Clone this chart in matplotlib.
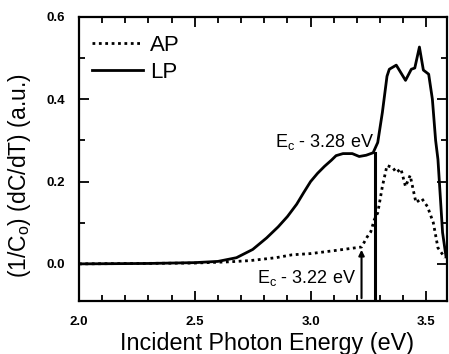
import matplotlib
matplotlib.use('Agg')
import matplotlib.pyplot as plt
from matplotlib.ticker import MultipleLocator

plt.rcParams['font.family'] = ['Liberation Sans', 'DejaVu Sans']

# LP curve (solid)
lp_e = [2.0, 2.3, 2.5, 2.6, 2.68, 2.75, 2.81, 2.86, 2.90, 2.94, 2.97, 3.00, 3.03, 3.06,
        3.09, 3.11, 3.14, 3.18, 3.21, 3.24, 3.27, 3.29, 3.31, 3.33, 3.34, 3.37, 3.41,
        3.435, 3.45, 3.47, 3.487, 3.51, 3.526, 3.54, 3.55, 3.57, 3.585]
lp_v = [0.0, 0.001, 0.003, 0.006, 0.015, 0.035, 0.063, 0.09, 0.115, 0.145, 0.173, 0.200,
        0.22, 0.237, 0.252, 0.263, 0.268, 0.268, 0.261, 0.264, 0.27, 0.295, 0.368, 0.456,
        0.473, 0.483, 0.446, 0.473, 0.476, 0.527, 0.471, 0.461, 0.40, 0.30, 0.254, 0.076, 0.017]

# AP curve (dotted)
ap_e = [2.0, 2.5, 2.65, 2.74, 2.85, 2.92, 3.0, 3.10, 3.22, 3.245, 3.26, 3.275, 3.29, 3.31,
        3.33, 3.355, 3.37, 3.39, 3.41, 3.43, 3.455, 3.48, 3.505, 3.53, 3.55, 3.58]
ap_v = [0.0, 0.002, 0.005, 0.008, 0.015, 0.022, 0.025, 0.032, 0.041, 0.066, 0.078, 0.107,
        0.124, 0.188, 0.239, 0.234, 0.222, 0.231, 0.188, 0.215, 0.149, 0.159, 0.139, 0.10,
        0.039, 0.015]

ec_ap = 3.22
ec_lp = 3.28
ymin = -0.09

fig = plt.figure(figsize=(4.49, 3.54), dpi=100)
ax = fig.add_axes([0.176, 0.150, 0.82, 0.802])

ax.plot(ap_e, ap_v, color='k', lw=2.0, linestyle=(0, (1, 1.3)), label='AP')
ax.plot(lp_e, lp_v, color='k', lw=2.0, label='LP')

# marker lines for the two levels
ax.annotate('', xy=(ec_ap, 0.041), xytext=(ec_ap, ymin),
            arrowprops=dict(arrowstyle='-|>', lw=1.5, color='k', mutation_scale=8))
ax.plot([ec_lp, ec_lp], [ymin, 0.27], color='k', lw=2.2)

ax.text(2.845, 0.285, r'E$_\mathregular{c}$ - 3.28 eV', fontsize=13)
ax.text(2.77, -0.046, r'E$_\mathregular{c}$ - 3.22 eV', fontsize=13)

ax.set_xlim(2.0, 3.59)
ax.set_ylim(ymin, 0.6)
ax.xaxis.set_major_locator(MultipleLocator(0.5))
ax.xaxis.set_minor_locator(MultipleLocator(0.1))
ax.yaxis.set_major_locator(MultipleLocator(0.2))
ax.yaxis.set_minor_locator(MultipleLocator(0.1))
ax.tick_params(which='both', direction='in', top=True, right=True, width=1.3)
ax.tick_params(which='major', length=7, labelsize=9.5)
ax.tick_params(axis='x', which='major', pad=11)
ax.tick_params(axis='y', which='major', pad=10)
ax.tick_params(which='minor', length=4)
for lab in ax.get_xticklabels() + ax.get_yticklabels():
    lab.set_fontweight('bold')
for s in ax.spines.values():
    s.set_linewidth(1.6)

ax.set_xlabel('Incident Photon Energy (eV)', fontsize=16.8)
ax.set_ylabel(r'(1/C$_\mathregular{o}$) (dC/dT) (a.u.)', fontsize=16.5)
ax.yaxis.set_label_coords(-0.125, 0.44)
ax.xaxis.set_label_coords(0.51, -0.11)

ax.legend(loc='upper left', bbox_to_anchor=(0.0, 0.985), frameon=False, fontsize=16,
          handlelength=2.3, handletextpad=0.3, labelspacing=0.3, borderaxespad=0.2)

fig.savefig('out.png', dpi=100)
